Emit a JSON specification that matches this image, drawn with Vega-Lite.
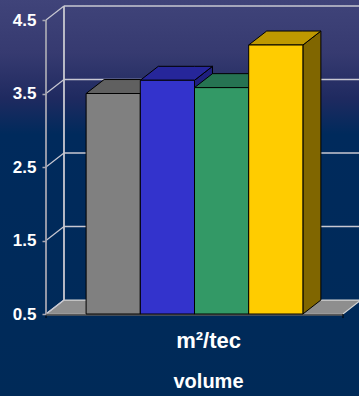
{
  "$schema": "https://vega.github.io/schema/vega-lite/v6.json",
  "width": 297,
  "height": 294,
  "autosize": "none",
  "padding": {"left": 46, "top": 20, "right": 16, "bottom": 82},
  "background": "#002a5a",
  "config": {"view": {"stroke": null}, "font": "Liberation Sans"},
  "datasets": {
    "bars": [
      {"bar": "grey", "i": 0, "value": 3.5, "front": "#808080", "top": "#606060", "side": "#404040"},
      {"bar": "blue", "i": 1, "value": 3.68, "front": "#3333cc", "top": "#26269a", "side": "#1f1f7f"},
      {"bar": "green", "i": 2, "value": 3.58, "front": "#339966", "top": "#267352", "side": "#1f5f40"},
      {"bar": "yellow", "i": 3, "value": 4.16, "front": "#ffcc00", "top": "#bf9900", "side": "#806600"}
    ],
    "levels": [{"v": 0.5}, {"v": 1.5}, {"v": 2.5}, {"v": 3.5}, {"v": 4.5}],
    "plane": [{"x0": -0.74, "x1": 4.74, "d": 0.332, "h": 0.19}]
  },
  "layer": [
    {
      "description": "backdrop gradient across the whole window",
      "data": {"values": [{}]},
      "mark": {
        "type": "rect",
        "fill": {
          "gradient": "linear", "x1": 0, "y1": 0, "x2": 0, "y2": 1,
          "stops": [
            {"offset": 0, "color": "#40447a"},
            {"offset": 0.14, "color": "#363a70"},
            {"offset": 0.25, "color": "#1f2a60"},
            {"offset": 0.34, "color": "#002a5c"},
            {"offset": 1, "color": "#002a58"}
          ]
        }
      },
      "encoding": {
        "x": {
          "datum": -1.6, "type": "quantitative",
          "scale": {"domain": [-0.74, 4.74], "nice": false, "zero": false},
          "axis": {
            "values": [2.25], "labelExpr": "'m²/tec'", "ticks": false, "domain": false, "grid": false,
            "labelFont": "Liberation Sans", "labelFontWeight": "bold", "labelFontSize": 22, "labelColor": "#ffffff",
            "labelPadding": 16, "labelBaseline": "top", "labelFlush": false,
            "title": "volume", "titleFont": "Liberation Sans", "titleFontWeight": "bold", "titleFontSize": 20,
            "titleColor": "#ffffff", "titleX": 162, "titleY": 67, "titleBaseline": "middle", "titleAnchor": "middle", "titleAlign": "center",
            "zindex": 1
          }
        },
        "x2": {"datum": 5.1},
        "y": {
          "datum": 4.8, "type": "quantitative",
          "scale": {"domain": [0.5, 4.5], "nice": false, "zero": false},
          "axis": {
            "values": [0.5, 1.5, 2.5, 3.5, 4.5], "format": ".1f", "domain": false, "grid": false,
            "tickColor": "#a8a8b4", "tickSize": 4, "tickWidth": 1.5,
            "labelFont": "Liberation Sans", "labelFontWeight": "bold", "labelFontSize": 17, "labelColor": "#ffffff",
            "labelPadding": 6, "title": null, "zindex": 1
          }
        },
        "y2": {"datum": -0.65}
      }
    },
    {
      "description": "floor of the box",
      "data": {"name": "plane"},
      "transform": [
        {"calculate": "[datum.x0, datum.x0 + datum.d, datum.x1, datum.x1 + datum.d]", "as": "xs"},
        {"calculate": "[0.5, 0.5 + datum.h, 0.5 + datum.h, 0.5 + datum.h]", "as": "ys"},
        {"calculate": "[0.5, 0.5, 0.5, 0.5 + datum.h]", "as": "y2s"},
        {"flatten": ["xs", "ys", "y2s"]}
      ],
      "mark": {"type": "area", "fill": "#8e8e8e", "stroke": "#d4d4d4", "strokeWidth": 1.2, "opacity": 1},
      "encoding": {
        "x": {"field": "xs", "type": "quantitative"},
        "y": {"field": "ys", "type": "quantitative"},
        "y2": {"field": "y2s"}
      }
    },
    {
      "description": "horizontal lines on the back wall",
      "data": {"name": "levels"},
      "transform": [
        {"filter": "datum.v > 1"},
        {"calculate": "-0.74 + 0.332", "as": "xa"},
        {"calculate": "4.74 + 0.332", "as": "xb"},
        {"calculate": "datum.v + 0.19", "as": "yb"}
      ],
      "mark": {"type": "rule", "color": "#c8c8d2", "strokeWidth": 1.5},
      "encoding": {
        "x": {"field": "xa", "type": "quantitative"},
        "x2": {"field": "xb"},
        "y": {"field": "yb", "type": "quantitative"}
      }
    },
    {
      "description": "slanted connectors from the value axis to the back wall",
      "data": {"name": "levels"},
      "transform": [
        {"calculate": "-0.74", "as": "xa"},
        {"calculate": "-0.74 + 0.332", "as": "xb"},
        {"calculate": "datum.v + 0.19", "as": "yb"}
      ],
      "mark": {"type": "rule", "color": "#c8c8d2", "strokeWidth": 1.2},
      "encoding": {
        "x": {"field": "xa", "type": "quantitative"},
        "x2": {"field": "xb"},
        "y": {"field": "v", "type": "quantitative"},
        "y2": {"field": "yb"}
      }
    },
    {
      "description": "vertical edges: value axis line and back wall corner",
      "data": {"values": [
        {"edge": "axis", "xv": -0.74, "lo": 0.5, "hi": 4.5, "shade": "front"},
        {"edge": "wall", "xv": -0.408, "lo": 0.69, "hi": 4.69, "shade": "back"}
      ]},
      "mark": {"type": "rule", "strokeWidth": 1.8},
      "encoding": {
        "x": {"field": "xv", "type": "quantitative"},
        "y": {"field": "lo", "type": "quantitative"},
        "y2": {"field": "hi"},
        "color": {"field": "shade", "type": "nominal", "scale": {"domain": ["front", "back"], "range": ["#a4a4b0", "#c8c8d0"]}, "legend": null}
      }
    },
    {
      "description": "darker front lip of the floor",
      "data": {"name": "plane"},
      "mark": {"type": "rule", "color": "#5a5a5a", "strokeWidth": 2},
      "encoding": {
        "x": {"field": "x0", "type": "quantitative"},
        "x2": {"field": "x1"},
        "y": {"datum": 0.49, "type": "quantitative"}
      }
    },
    {
      "description": "short end ticks under the category axis",
      "data": {"values": [{"xv": -0.74}, {"xv": 4.74}]},
      "mark": {"type": "rule", "color": "#000000", "strokeWidth": 1},
      "encoding": {
        "x": {"field": "xv", "type": "quantitative"},
        "y": {"datum": 0.5, "type": "quantitative"},
        "y2": {"datum": 0.445}
      }
    },
    {
      "description": "right-hand faces of the bars",
      "data": {"name": "bars"},
      "transform": [
        {"calculate": "[datum.i + 1, datum.i + 1.332]", "as": "xs"},
        {"calculate": "[datum.value, datum.value + 0.19]", "as": "ys"},
        {"calculate": "[0.5, 0.69]", "as": "y2s"},
        {"flatten": ["xs", "ys", "y2s"]}
      ],
      "mark": {"type": "area", "stroke": "#000000", "strokeWidth": 1, "opacity": 1},
      "encoding": {
        "x": {"field": "xs", "type": "quantitative"},
        "y": {"field": "ys", "type": "quantitative"},
        "y2": {"field": "y2s"},
        "detail": {"field": "bar"},
        "fill": {"field": "side", "type": "nominal", "scale": null}
      }
    },
    {
      "description": "top faces of the bars",
      "data": {"name": "bars"},
      "transform": [
        {"calculate": "[datum.i, datum.i + 0.332, datum.i + 1, datum.i + 1.332]", "as": "xs"},
        {"calculate": "[datum.value, datum.value + 0.19, datum.value + 0.19, datum.value + 0.19]", "as": "ys"},
        {"calculate": "[datum.value, datum.value, datum.value, datum.value + 0.19]", "as": "y2s"},
        {"flatten": ["xs", "ys", "y2s"]}
      ],
      "mark": {"type": "area", "stroke": "#000000", "strokeWidth": 1, "opacity": 1},
      "encoding": {
        "x": {"field": "xs", "type": "quantitative"},
        "y": {"field": "ys", "type": "quantitative"},
        "y2": {"field": "y2s"},
        "detail": {"field": "bar"},
        "fill": {"field": "top", "type": "nominal", "scale": null}
      }
    },
    {
      "description": "front faces of the bars",
      "data": {"name": "bars"},
      "transform": [
        {"calculate": "datum.i + 1", "as": "xEnd"},
        {"calculate": "0.5", "as": "base"}
      ],
      "mark": {"type": "rect", "stroke": "#000000", "strokeWidth": 1},
      "encoding": {
        "x": {"field": "i", "type": "quantitative"},
        "x2": {"field": "xEnd"},
        "y": {"field": "value", "type": "quantitative"},
        "y2": {"field": "base"},
        "fill": {"field": "front", "type": "nominal", "scale": null}
      }
    }
  ]
}
